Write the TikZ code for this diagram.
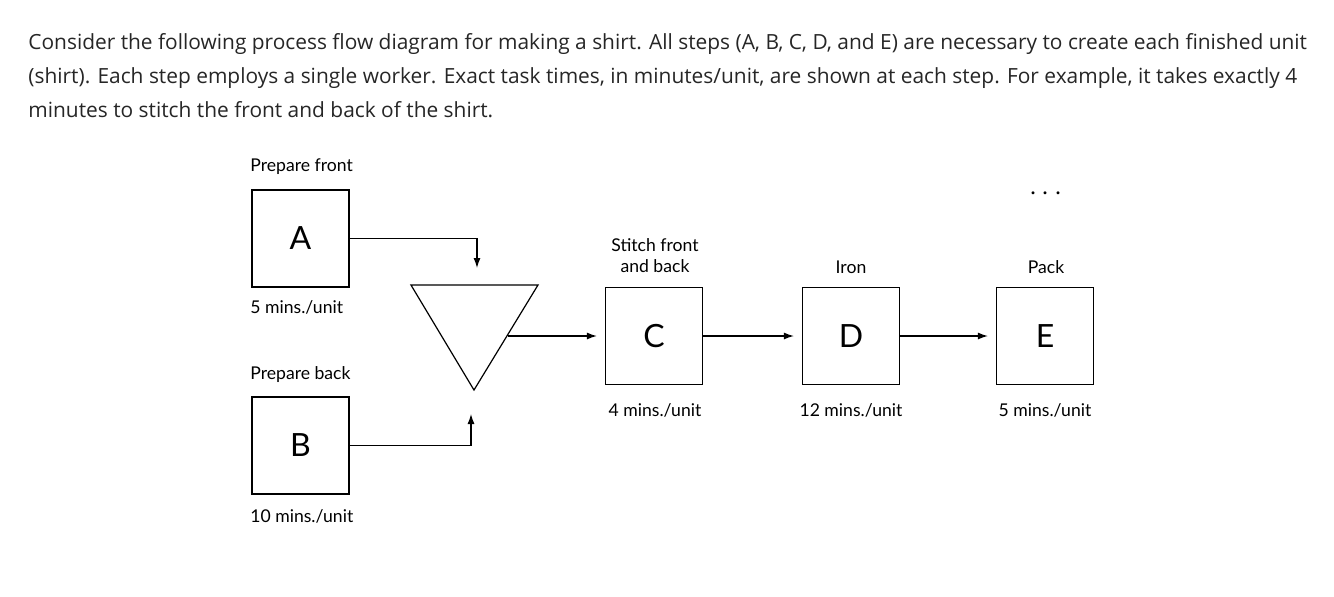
\documentclass[tikz,border=0pt]{standalone}
\usepackage{fontspec}
\setmainfont{Open Sans}
\newfontfamily\dfont{Lato}
\usetikzlibrary{arrows.meta}
\begin{document}
\begin{tikzpicture}[x=0.5pt,y=-0.5pt,
  box/.style={draw,line width=0.6pt,minimum width=48.5pt,minimum height=48.5pt,inner sep=0pt,font=\dfont\fontsize{16}{16}\selectfont},
  lbl/.style={font=\dfont\fontsize{8.8}{10.5}\selectfont,inner sep=0pt,align=center},
  para/.style={anchor=base west,inner sep=0pt,font=\fontsize{10.45}{12}\selectfont,text=black!85},
  conn/.style={line width=0.6pt,-{Latex[length=5pt,width=3.5pt]}}]
\useasboundingbox (0,0) rectangle (1334,596);
\node[para] (p1) at (28,49) {Consider the following process flow diagram for making a shirt. All steps (A, B, C, D, and E) are necessary to create each finished unit};
\node[para] (p2) at (28,83) {(shirt). Each step employs a single worker. Exact task times, in minutes/unit, are shown at each step. For example, it takes exactly 4};
\node[para] (p3) at (28,117) {minutes to stitch the front and back of the shirt.};
\node[box] (A) at (300.5,238.5) {A};
\node[box] (B) at (300.5,445.5) {B};
\node[box] (C) at (654,336) {C};
\node[box] (D) at (851,336) {D};
\node[box] (E) at (1045,336) {E};
\node[lbl,anchor=west] (la) at (250,167) {Prepare front};
\node[lbl,anchor=west] (ta) at (250,307) {5 mins./unit};
\node[lbl,anchor=west] (lb) at (250,375) {Prepare back};
\node[lbl,anchor=west] (tb) at (250,516) {10 mins./unit};
\node[lbl] (lc) at (655,256) {Stitch front\\and back};
\node[lbl] (tc) at (655,410) {4 mins./unit};
\node[lbl] (ld) at (851,267) {Iron};
\node[lbl] (td) at (851,410) {12 mins./unit};
\node[lbl] (le) at (1046,267) {Pack};
\node[lbl] (te) at (1045,410) {5 mins./unit};
\node[lbl,font=\fontsize{14}{14}\selectfont] (dots) at (1046,194) {$\cdots$};
\coordinate (t1) at (411,285); \coordinate (t2) at (538,285); \coordinate (t3) at (474,390);
\draw[line width=0.6pt] (t1) -- (t2) -- (t3) -- cycle;
\coordinate (ta1) at (477,268);
\coordinate (tb1) at (471,414);
\coordinate (tout) at (508,336);
\draw[conn] (A.east) -| (ta1);
\draw[conn] (B.east) -| (tb1);
\draw[conn] (tout) -- ([xshift=-4]C.west);
\draw[conn] (C.east) -- ([xshift=-4]D.west);
\draw[conn] (D.east) -- ([xshift=-4]E.west);
\end{tikzpicture}
\end{document}
